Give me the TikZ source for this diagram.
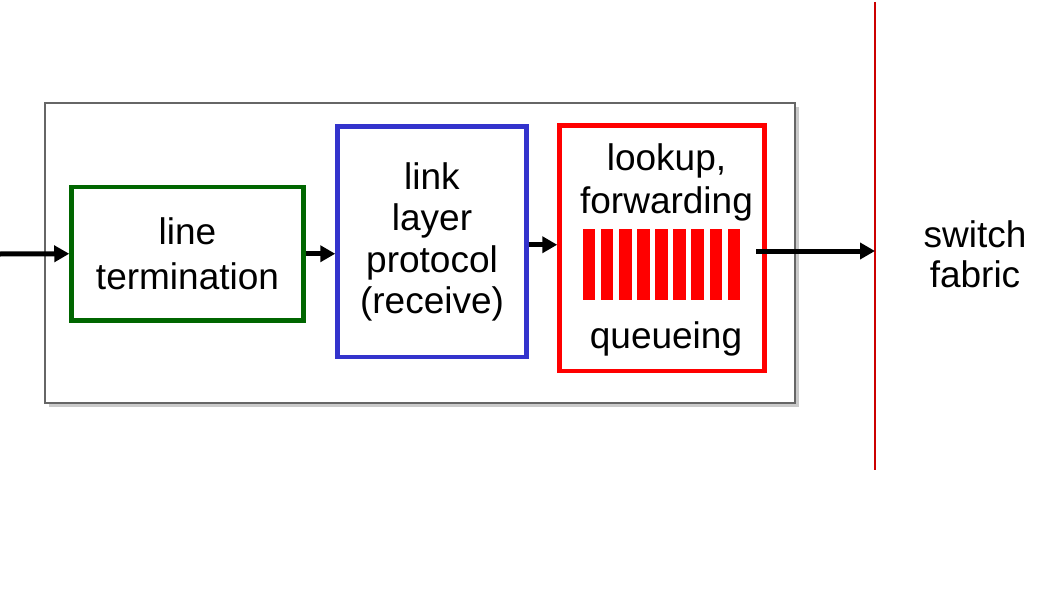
\documentclass[tikz,border=0pt]{standalone}
\usepackage{fontspec}
\setmainfont{Liberation Sans}
\usetikzlibrary{positioning,arrows.meta,shadows}
\definecolor{lnkblue}{RGB}{51,51,204}
\definecolor{termgreen}{RGB}{0,102,0}

\begin{document}
\begin{tikzpicture}[x=1pt,y=1pt,
	lbl/.style={font=\fontsize{37}{42}\selectfont, align=center},
	blk/.style={lbl, draw, line width=4.5pt, inner sep=0pt},
	arr/.style={line width=5pt, -{Triangle[length=15pt,width=16pt]}}]

	\useasboundingbox (0,0) rectangle (1062,-607);

	\node[draw=black!60, line width=2.8pt, fill=white, minimum width=750, minimum height=300,
		drop shadow={shadow xshift=4pt, shadow yshift=-4pt, fill=black!35, opacity=.6}] (port) at (420,-253) {};

	\node[blk, draw=termgreen, minimum width=232, minimum height=133.5,
		font=\fontsize{37}{45}\selectfont] (term) at (187.5,-253.75) {line\\termination};
	\node[blk, draw=lnkblue, minimum width=189, minimum height=230.5,
		font=\fontsize{37}{41.5}\selectfont] (llp) at (432,-241.75) {link\\layer\\protocol\\(receive)};
	\node[blk, draw=red, minimum width=205, minimum height=245.5] (fwd) at (662,-248.25) {};

	\node[lbl, font=\fontsize{37}{43}\selectfont] (lkp) at (666.5,-182) {lookup,\\forwarding};
	\node[lbl, anchor=base] (que) at (666,-348) {queueing};
	\node[minimum width=157, minimum height=70.5, inner sep=0pt] (bars) at (661.5,-264.25) {};
	\foreach \i in {0,...,8}
		\fill[red] ([xshift=\i*18.1pt]bars.south west) rectangle +(12.5,70.5);

	\coordinate (fab top) at (875,-2);
	\coordinate (fab bot) at (875,-470);
	\draw[red!80!black, line width=1.5pt] (fab top) -- (fab bot);
	\node[lbl, font=\fontsize{37}{40}\selectfont] (fabric) at (975,-254) {switch\\fabric};

	\coordinate (in) at (0,-254);
	\coordinate (out) at (756,-251);
	\draw[arr] (in) -- (term.west);
	\draw[arr] (term.east) -- (term.east -| llp.west);
	\draw[arr] ([yshift=-3pt]llp.east) -- ([yshift=-3pt]llp.east -| fwd.west);
	\draw[arr] (out) -- (out -| fab top);
\end{tikzpicture}
\end{document}
